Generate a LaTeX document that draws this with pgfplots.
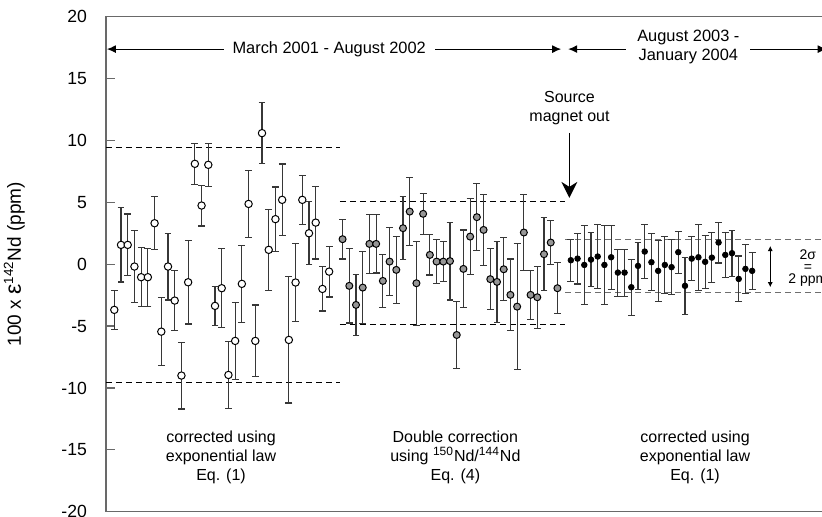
\documentclass[border=0pt]{standalone}
\usepackage{fontspec}
\setmainfont{Liberation Sans}
\usepackage{pgfplots}
\pgfplotsset{compat=1.18}
\usetikzlibrary{arrows.meta}
\definecolor{framegray}{RGB}{105,105,105}
\definecolor{ptgray}{RGB}{150,150,150}
\definecolor{bargray}{RGB}{55,55,55}
\definecolor{dashgray}{RGB}{110,110,110}
\newcommand{\lab}{\fontsize{8}{9.5}\selectfont}
\pgfplotsset{errs/.style={error bars/.cd, y dir=both, y explicit,
  error bar style={bargray, line width=0.55pt},
  error mark options={bargray, rotate=90, mark size=1.7pt, line width=0.55pt}}}

\begin{document}
\begin{tikzpicture}
\begin{axis}[
  at={(0,0)}, anchor=south west,
  scale only axis, width=361pt, height=247.5pt,
  xmin=-1.236, xmax=106.3, ymin=-20, ymax=20,
  xtick=\empty,
  ytick={-20,-15,...,20},
  yticklabels={-20,-15,-10,-5,0,5,10,15,20},
  ytick pos=left, tick align=inside,
  major tick length=4.5pt,
  tick style={framegray, line width=0.6pt},
  axis line style={framegray, line width=0.7pt},
  yticklabel style={font=\fontsize{8.8}{10}\selectfont, xshift=-6pt},
  ylabel={100 x {\fontsize{11.5}{11.5}\selectfont ε}\textsuperscript{142}Nd (ppm)},
  ylabel style={font=\fontsize{9.5}{11}\selectfont, at={(axis description cs:-0.127,0.5)}, anchor=center},
  clip=false,
]
% dashed bands
\addplot[black, dash pattern=on 3pt off 2pt, line width=0.5pt] coordinates {(-1.236,9.46) (33.6,9.46)};
\addplot[black, dash pattern=on 3pt off 2pt, line width=0.5pt] coordinates {(-1.236,-9.54) (33.6,-9.54)};
\addplot[black, dash pattern=on 3pt off 2pt, line width=0.5pt] coordinates {(33.6,5.06) (67.1,5.06)};
\addplot[black, dash pattern=on 3pt off 2pt, line width=0.5pt] coordinates {(33.6,-4.85) (67.1,-4.85)};
\addplot[dashgray, dash pattern=on 3pt off 2pt, line width=0.6pt] coordinates {(67.2,2.02) (106.3,2.02)};
\addplot[dashgray, dash pattern=on 3pt off 2pt, line width=0.6pt] coordinates {(67.2,-2.29) (106.3,-2.29)};

% group 1: open circles
\addplot[only marks, mark=*, mark size=1.85pt, mark options={fill=white, draw=black, line width=0.5pt}, errs]
table[x=x, y=y, y error=e] {
x y e
0 -3.69 1.6
1 1.56 3.0
2 1.56 2.5
3 -0.19 2.9
4 -1.05 2.4
5 -1.05 2.35
6 3.31 2.15
7 -5.45 2.75
8 -0.19 2.7
9 -2.94 2.45
10 -9.0 2.7
11 -1.46 3.37
12 8.11 1.65
13 4.74 1.65
14 8.03 1.75
15 -3.37 1.6
16 -1.94 3.2
17 -8.95 2.7
18 -6.2 3.14
19 -1.59 3.1
20 4.87 2.7
21 -6.2 2.9
22 10.59 2.45
23 1.16 3.27
24 3.64 2.6
25 5.2 2.9
26 -6.12 5.1
27 -1.48 3.14
28 5.2 1.97
29 2.5 2.53
30 3.36 2.94
31 -2.0 1.78
32 -0.6 2.05
};

% group 2: grey circles
\addplot[only marks, mark=*, mark size=1.75pt, mark options={fill=ptgray, draw=black, line width=0.5pt}, errs]
table[x=x, y=y, y error=e] {
x y e
34 2.02 1.6
35 -1.75 3.0
36 -3.29 2.47
37 -1.89 2.9
38 1.64 2.37
39 1.64 2.35
40 -1.35 2.16
41 0.21 2.74
42 -0.46 2.73
43 2.91 2.53
44 4.25 2.73
45 -1.54 3.4
46 4.07 1.65
47 0.75 1.62
48 0.21 1.75
49 0.21 1.6
50 0.25 3.14
51 -5.72 2.72
52 -0.38 3.14
53 2.23 3.07
54 3.8 2.7
55 2.77 2.86
56 -1.21 2.45
57 -1.43 3.26
58 -0.41 2.56
59 -2.48 2.9
60 -3.43 5.1
61 2.56 3.1
62 -2.48 2.0
63 -2.67 2.5
64 0.81 2.95
65 1.75 1.76
66 -1.94 2.07
};

% group 3: black dots
\addplot[only marks, mark=*, mark size=1.4pt, mark options={fill=black, draw=black}, errs]
table[x=x, y=y, y error=e] {
x y e
68 0.32 1.7
69 0.45 2.05
70 -0.06 3.2
71 0.37 2.2
72 0.62 2.6
73 -0.06 3.2
74 0.56 2.6
75 -0.68 1.9
76 -0.68 1.9
77 -1.86 2.25
78 -0.14 1.9
79 1.02 2.2
80 0.16 2.3
81 -0.54 2.45
82 -0.06 2.3
83 -0.24 2.2
84 0.97 1.7
85 -1.75 2.3
86 0.45 1.8
87 0.56 2.65
88 0.19 2.15
89 0.53 2.0
90 1.75 1.65
91 0.75 1.8
92 0.89 1.85
93 -1.19 1.85
94 -0.38 2.0
95 -0.54 1.5
};

% period arrows
\draw[{Latex[length=4.5pt,width=4pt]}-{Latex[length=4.5pt,width=4pt]}, line width=0.55pt]
  (axis cs:-1.1,17.38) -- (axis cs:66.55,17.38);
\node[fill=white, inner xsep=4.5pt, inner ysep=1pt, font=\fontsize{8.2}{9.5}\selectfont] at (axis cs:32.0,17.38) {March 2001 - August 2002};
\draw[{Latex[length=4.5pt,width=4pt]}-{Latex[length=4.5pt,width=4pt]}, line width=0.55pt]
  (axis cs:67.6,17.38) -- (axis cs:106.1,17.38);
\node[fill=white, inner xsep=5.5pt, inner ysep=1pt, align=center, font=\fontsize{8.2}{9.5}\selectfont] at (axis cs:85.5,17.55) {August 2003 -\\January 2004};

% source magnet out
\node[align=center, font=\lab] at (axis cs:67.8,12.64) {Source\\magnet out};
\draw[-{Stealth[length=8pt,width=8pt,inset=2.5pt]}, line width=0.6pt] (axis cs:67.78,10.61) -- (axis cs:67.78,5.36);

% 2 sigma
\draw[{Latex[length=2.5pt,width=2.5pt]}-{Latex[length=2.5pt,width=2.5pt]}, line width=0.4pt]
  (axis cs:97.7,1.47) -- (axis cs:97.7,-1.86);
\node[font=\fontsize{7}{6}\selectfont, inner sep=0pt, align=center] at (axis cs:103.3,-0.29) {2σ\\=\\2 ppm};

% bottom labels
\node[align=center, font=\lab] at (axis cs:15.9,-15.58) {corrected using\\exponential law\\Eq. (1)};
\node[align=center, font=\lab] at (axis cs:50.8,-15.58) {Double correction\\using \textsuperscript{150}Nd/\textsuperscript{144}Nd\\Eq. (4)};
\node[align=center, font=\lab] at (axis cs:86.5,-15.58) {corrected using\\exponential law\\Eq. (1)};
\end{axis}
\pgfresetboundingbox
\path[use as bounding box] (-53pt,-2.65pt) rectangle (358pt,255.85pt);
\end{tikzpicture}
\end{document}
